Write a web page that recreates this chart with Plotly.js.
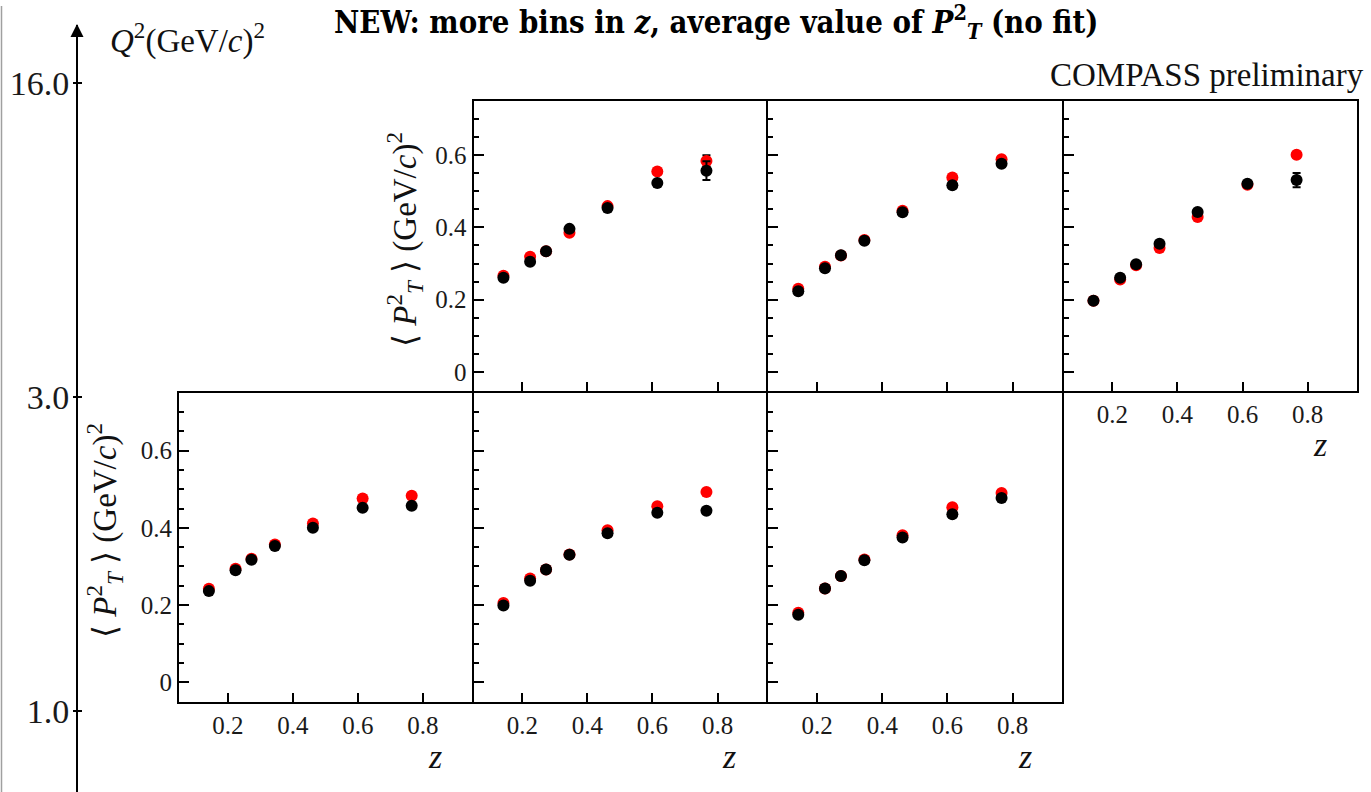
<!DOCTYPE html>
<html>
<head>
<meta charset="utf-8">
<script src="https://cdn.plot.ly/plotly-3.0.1.min.js"></script>
<style>html,body{margin:0;padding:0;background:#fff;}#plot{width:1371px;height:792px;}</style>
</head>
<body>
<div id="plot"></div>
<script>
// ---------------- data ----------------
const zVals = [0.142, 0.224, 0.273, 0.345, 0.462, 0.615, 0.766];
const zTicks = [0.2, 0.4, 0.6, 0.8];
const yTicks = [0, 0.2, 0.4, 0.6];
const yTickText = ["0", "0.2", "0.4", "0.6"];
const qLabels = ["1.0", "3.0", "16.0"];

// top row (Q^2 3-16)
const redTL   = [0.266, 0.319, 0.334, 0.385, 0.459, 0.555, 0.584];
const blackTL = [0.261, 0.305, 0.334, 0.396, 0.454, 0.523, 0.557];
const redTM   = [0.230, 0.291, 0.322, 0.365, 0.446, 0.538, 0.589];
const blackTM = [0.223, 0.287, 0.323, 0.363, 0.442, 0.517, 0.576];
const redTR   = [0.197, 0.256, 0.295, 0.343, 0.429, 0.518, 0.601];
const blackTR = [0.197, 0.261, 0.298, 0.355, 0.443, 0.521, 0.531];
// bottom row (Q^2 1-3)
const redBL   = [0.242, 0.294, 0.320, 0.357, 0.411, 0.476, 0.483];
const blackBL = [0.236, 0.290, 0.317, 0.353, 0.400, 0.452, 0.457];
const redBM   = [0.205, 0.269, 0.292, 0.331, 0.394, 0.456, 0.493];
const blackBM = [0.199, 0.263, 0.292, 0.330, 0.386, 0.439, 0.444];
const redBR   = [0.180, 0.243, 0.275, 0.318, 0.381, 0.453, 0.490];
const blackBR = [0.175, 0.243, 0.275, 0.316, 0.375, 0.435, 0.477];

// statistical errors
const errRedTL   = [0.004, 0.004, 0.004, 0.004, 0.005, 0.007, 0.016];
const errBlackTL = [0.004, 0.004, 0.004, 0.004, 0.005, 0.007, 0.026];
const errRedTR   = [0.003, 0.003, 0.003, 0.003, 0.004, 0.005, 0.008];
const errBlackTR = [0.003, 0.003, 0.003, 0.003, 0.004, 0.005, 0.020];
const errSmall   = [0.002, 0.002, 0.002, 0.002, 0.003, 0.004, 0.006];

// ---------------- layout helpers ----------------
const W = 1371, H = 792;
const px = v => v / W;
const py = v => 1 - v / H;
// axis lines are drawn just outside the domain, so leave a 2px gap for shared borders
const cols = [[179, 471.5], [473.5, 766.3], [768.3, 1061.5], [1063.5, 1356.5]];
const rows = { top: [101, 390.7], bottom: [392.7, 702.3] };
const serif = 'Liberation Serif, serif';
const tickCol = '#1a1a1a';

const panels = [
  { id: '',  col: 1, row: 'top',    red: redTL, black: blackTL, er: errRedTL, eb: errBlackTL, xl: false, yl: true },
  { id: '2', col: 2, row: 'top',    red: redTM, black: blackTM, er: errSmall, eb: errSmall,   xl: false, yl: false },
  { id: '3', col: 3, row: 'top',    red: redTR, black: blackTR, er: errRedTR, eb: errBlackTR, xl: true,  yl: false },
  { id: '4', col: 0, row: 'bottom', red: redBL, black: blackBL, er: errSmall, eb: errSmall,   xl: true,  yl: true },
  { id: '5', col: 1, row: 'bottom', red: redBM, black: blackBM, er: errSmall, eb: errSmall,   xl: true,  yl: false },
  { id: '6', col: 2, row: 'bottom', red: redBR, black: blackBR, er: errSmall, eb: errSmall,   xl: true,  yl: false }
];

const traces = [];
const layout = {
  width: W, height: H, autosize: false,
  margin: { l: 0, r: 0, t: 0, b: 0 },
  paper_bgcolor: '#fff', plot_bgcolor: 'rgba(0,0,0,0)',
  showlegend: false,
  annotations: [], shapes: []
};

panels.forEach(p => {
  const xa = 'x' + p.id, ya = 'y' + p.id;
  traces.push({
    x: zVals, y: p.red, xaxis: xa, yaxis: ya, type: 'scatter', mode: 'markers',
    marker: { color: '#ff0000', size: 12 },
    error_y: { type: 'data', array: p.er, visible: true, color: '#000', thickness: 2, width: 4 },
    hoverinfo: 'skip'
  });
  traces.push({
    x: zVals, y: p.black, xaxis: xa, yaxis: ya, type: 'scatter', mode: 'markers',
    marker: { color: '#000000', size: 12 },
    error_y: { type: 'data', array: p.eb, visible: true, color: '#000', thickness: 2, width: 4 },
    hoverinfo: 'skip'
  });
  const c = cols[p.col], r = rows[p.row];
  layout['xaxis' + p.id] = {
    domain: [px(c[0]), px(c[1])], anchor: ya, range: [0.05, 0.95],
    showline: true, mirror: true, linecolor: '#000', linewidth: 2,
    ticks: 'inside', ticklen: 9, tickwidth: 2, tickcolor: '#000',
    tickvals: zTicks, ticktext: zTicks.map(v => v.toFixed(1)),
    showticklabels: p.xl, showgrid: false, zeroline: false,
    tickfont: { family: serif, size: 25, color: tickCol }
  };
  layout['yaxis' + p.id] = {
    domain: [py(r[1]), py(r[0])], anchor: xa, range: [-0.052, 0.75],
    showline: true, mirror: true, linecolor: '#000', linewidth: 2,
    ticks: 'inside', ticklen: 10, tickwidth: 2, tickcolor: '#000',
    tickvals: yTicks, ticktext: yTickText,
    minor: { tickvals: [0.05, 0.1, 0.15, 0.25, 0.3, 0.35, 0.45, 0.5, 0.55, 0.65, 0.7], ticks: 'inside', ticklen: 5, tickwidth: 2, tickcolor: '#000', showgrid: false },
    showticklabels: p.yl, showgrid: false, zeroline: false,
    tickfont: { family: serif, size: 25, color: tickCol }
  };
  if (p.xl) {
    layout.annotations.push({
      xref: 'paper', yref: 'paper', x: px(c[1] - 37), y: py(r[1] + 54),
      text: '<i>z</i>', showarrow: false, xanchor: 'center', yanchor: 'middle',
      font: { family: serif, size: 34, color: '#111' }
    });
  }
});

// Q^2 overview axis (bins equally spaced)
const qIdx = qLabels.map((_, i) => i);
traces.push({ x: [0.5, 0.5, 0.5], y: qIdx, xaxis: 'x7', yaxis: 'y7', type: 'scatter', mode: 'markers',
  marker: { opacity: 0, size: 1 }, hoverinfo: 'skip' });
traces.push({ x: [0.5, 0.5, 0.5], y: qIdx, xaxis: 'x7', yaxis: 'y8', type: 'scatter', mode: 'markers',
  marker: { opacity: 0, size: 1 }, hoverinfo: 'skip' });
const qRange = [-0.258, 2.185];
layout.xaxis7 = { domain: [0, 1], range: [0, 1], visible: false, anchor: 'y7' };
layout.yaxis7 = {
  anchor: 'free', position: px(77), domain: [0, py(25)], range: qRange,
  showline: true, linecolor: '#000', linewidth: 2,
  ticks: 'inside', ticklen: 4, tickwidth: 2, tickcolor: '#000',
  tickvals: qIdx, ticktext: qLabels, showgrid: false, zeroline: false,
  tickfont: { family: serif, size: 34, color: tickCol }
};
layout.yaxis8 = {
  anchor: 'free', overlaying: 'y7', position: px(77), domain: [0, py(25)], range: qRange,
  showline: false, ticks: 'outside', ticklen: 4, tickwidth: 2, tickcolor: '#000',
  tickvals: qIdx, showticklabels: false, showgrid: false, zeroline: false
};

// arrow head on Q^2 axis
layout.annotations.push({
  xref: 'paper', yref: 'paper', x: px(77), y: py(24), ax: 0, ay: 24,
  text: '', showarrow: true, arrowhead: 2, arrowsize: 1.3, arrowwidth: 2, arrowcolor: '#000'
});
// grey page edge line
layout.shapes.push({ type: 'line', xref: 'paper', yref: 'paper', x0: px(1.5), x1: px(1.5), y0: 0, y1: py(6),
  line: { color: '#a0a0a0', width: 1.5 } });

// texts
layout.annotations.push({
  xref: 'paper', yref: 'paper', x: px(108), y: py(38), xanchor: 'left', yanchor: 'middle',
  text: '<i>Q</i><sup>2</sup>(GeV/<i>c</i>)<sup>2</sup>', showarrow: false,
  font: { family: serif, size: 33, color: '#111' }
});
layout.annotations.push({
  xref: 'paper', yref: 'paper', x: px(716), y: py(22), xanchor: 'center', yanchor: 'middle',
  text: '<b>NEW: more bins in <i>z</i>, average value of <i>P</i><sup>2</sup><sub><i>T</i></sub> (no fit)</b>', showarrow: false,
  font: { family: 'DejaVu Serif Condensed, Liberation Serif, serif', size: 30.8, color: '#000' }
});
layout.annotations.push({
  xref: 'paper', yref: 'paper', x: px(1207), y: py(75), xanchor: 'center', yanchor: 'middle',
  text: 'COMPASS preliminary', showarrow: false,
  font: { family: serif, size: 33, color: '#111' }
});
const yTitle = '\u27E8 <i>P</i><sup>2</sup><sub><i>T</i></sub> \u27E9 (GeV/<i>c</i>)<sup>2</sup>';
layout.annotations.push({
  xref: 'paper', yref: 'paper', x: px(405), y: py(240), xanchor: 'center', yanchor: 'middle',
  text: yTitle, textangle: -90, showarrow: false,
  font: { family: serif, size: 33, color: '#111' }
});
layout.annotations.push({
  xref: 'paper', yref: 'paper', x: px(104), y: py(531), xanchor: 'center', yanchor: 'middle',
  text: yTitle, textangle: -90, showarrow: false,
  font: { family: serif, size: 33, color: '#111' }
});

Plotly.newPlot('plot', traces, layout, { staticPlot: true, displayModeBar: false });
</script>
</body>
</html>
